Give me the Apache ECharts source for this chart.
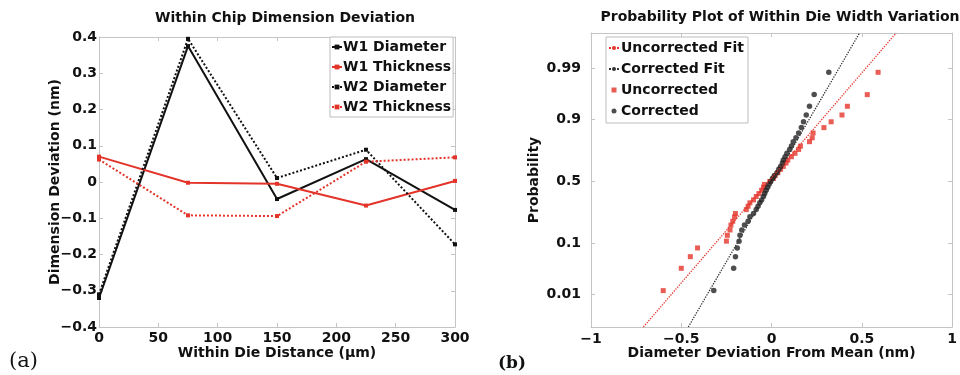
<!DOCTYPE html>
<html>
<head>
<meta charset="utf-8">
<script src="https://cdn.jsdelivr.net/npm/echarts@6/dist/echarts.min.js"></script>
<style>
  html, body { margin: 0; padding: 0; background: #fff; }
  #chart { width: 960px; height: 375px; }
</style>
</head>
<body>
<div id="chart"></div>
<script>
// (a) within chip deviation, x in um, y in nm
const distance = [0, 75, 150, 225, 300];
const w1Diameter = [-0.32, 0.375, -0.047, 0.063, -0.077];
const w1Thickness = [0.07, -0.002, -0.005, -0.065, 0.003];
const w2Diameter = [-0.31, 0.395, 0.011, 0.089, -0.172];
const w2Thickness = [0.062, -0.092, -0.094, 0.056, 0.068];

// (b) normal probability plot, y in normal-quantile units
const probZ = [-2.25, -1.79, -1.55, -1.37, -1.23, -1.11, -1.0, -0.9, -0.82, -0.73, -0.66,
  -0.58, -0.51, -0.44, -0.38, -0.31, -0.25, -0.18, -0.12, -0.06, 0, 0.06, 0.12, 0.18, 0.25,
  0.31, 0.38, 0.44, 0.51, 0.58, 0.66, 0.73, 0.82, 0.9, 1.0, 1.11, 1.23, 1.37, 1.55, 1.79, 2.25];
const uncorrectedX = [-0.60, -0.50, -0.45, -0.41, -0.25, -0.245, -0.23, -0.225, -0.215, -0.205,
  -0.20, -0.14, -0.13, -0.12, -0.10, -0.085, -0.07, -0.055, -0.045, -0.04, -0.01, 0.01, 0.02,
  0.035, 0.05, 0.065, 0.08, 0.09, 0.11, 0.13, 0.15, 0.16, 0.21, 0.225, 0.23, 0.29, 0.33, 0.39,
  0.42, 0.53, 0.59];
const correctedX = [-0.32, -0.21, -0.20, -0.19, -0.18, -0.175, -0.165, -0.15, -0.13, -0.12,
  -0.10, -0.085, -0.075, -0.065, -0.055, -0.045, -0.038, -0.03, -0.022, -0.015, -0.005, 0.005,
  0.015, 0.03, 0.04, 0.05, 0.06, 0.065, 0.075, 0.085, 0.10, 0.11, 0.12, 0.135, 0.15, 0.165,
  0.177, 0.192, 0.21, 0.236, 0.317];
const fitZ = [-3, 3.06];
const uncorrectedFitX = [-0.71, 0.69];
const correctedFitX = [-0.461, 0.487];
const probLabels = ['0.01', '0.1', '0.5', '0.9', '0.99'];
const probTickZ = [-2.326, -1.2816, 0, 1.2816, 2.326];

const chart = echarts.init(document.getElementById('chart'));

const FONT = "'DejaVu Sans', Verdana, sans-serif";
const SERIF = "'DejaVu Serif', serif";
const INK = '#111';
const RED = '#e3342a';
const AXIS_GREY = '#c4c4c4';

const minus = v => String(v).replace('-', '\u2212');
const pair = (xs, ys) => xs.map((x, i) => [x, ys[i]]);

// axis used for the plot box edges (ticks inside, light grey)
function edgeAxis(extra) {
  return Object.assign({
    type: 'value',
    nameMoveOverlap: false,
    axisLine: { show: true, onZero: false, lineStyle: { color: AXIS_GREY, width: 1 } },
    axisTick: { show: true, inside: true, length: 4, lineStyle: { color: AXIS_GREY } },
    splitLine: { show: false },
    axisLabel: { show: false }
  }, extra);
}
const labelStyle = { show: true, color: INK, fontFamily: FONT, fontWeight: 'bold', fontSize: 14 };
const nameStyle = { color: INK, fontFamily: FONT, fontWeight: 'bold', fontSize: 14 };

function lineSeries(name, data, color, type) {
  return {
    name: name, type: 'line', xAxisIndex: 0, yAxisIndex: 0,
    data: pair(distance, data),
    symbol: 'rect', symbolSize: 4,
    itemStyle: { color: color },
    lineStyle: { color: color, width: 2, type: type }
  };
}

const option = {
  animation: false,
  backgroundColor: '#fff',
  title: [
    { text: 'Within Chip Dimension Deviation', left: 280, top: 6, textAlign: 'center',
      textStyle: { fontFamily: FONT, fontWeight: 'bold', fontSize: 14, color: INK } },
    { text: 'Probability Plot of Within Die Width Variation', left: 775, top: 5, textAlign: 'center',
      textStyle: { fontFamily: FONT, fontWeight: 'bold', fontSize: 14, color: INK } },
    { text: '(a)', left: 4, top: 346,
      textStyle: { fontFamily: SERIF, fontWeight: 'normal', fontSize: 21, color: INK } },
    { text: '(b)', left: 493, top: 350,
      textStyle: { fontFamily: SERIF, fontWeight: 'bold', fontSize: 17, color: INK } }
  ],
  legend: [
    {
      orient: 'vertical', left: 330, top: 37,
      data: ['W1 Diameter', 'W1 Thickness', 'W2 Diameter', 'W2 Thickness'],
      backgroundColor: '#fff', borderColor: '#bdbdbd', borderWidth: 1,
      padding: [3, 2, 3, 1], itemGap: 6, itemWidth: 10, itemHeight: 6,
      textStyle: { fontFamily: FONT, fontWeight: 'bold', fontSize: 14, color: INK, padding: [0, 0, 0, -4] }
    },
    {
      orient: 'vertical', left: 606, top: 37,
      data: [
        'Uncorrected Fit',
        'Corrected Fit',
        { name: 'Uncorrected', icon: 'path://M0,0h1v1h-1z' },
        { name: 'Corrected', icon: 'circle' }
      ],
      backgroundColor: '#fff', borderColor: '#bdbdbd', borderWidth: 1,
      padding: [4, 4, 5, 2], itemGap: 7, itemWidth: 10, itemHeight: 5,
      textStyle: { fontFamily: FONT, fontWeight: 'bold', fontSize: 14, color: INK, padding: [0, 0, 0, -3] }
    }
  ],
  grid: [
    { left: 99, right: 505, top: 37, bottom: 48 },
    { left: 591, right: 7, top: 33, bottom: 48 }
  ],
  xAxis: [
    edgeAxis({ gridIndex: 0, position: 'bottom', min: 0, max: 300, interval: 50,
      axisLabel: Object.assign({}, labelStyle, { margin: 4 }),
      name: 'Within Die Distance (\u03bcm)', nameLocation: 'middle', nameGap: 19, nameTextStyle: nameStyle }),
    edgeAxis({ gridIndex: 0, position: 'top', min: 0, max: 300, interval: 50 }),
    edgeAxis({ gridIndex: 1, position: 'bottom', min: -1, max: 1, interval: 0.5,
      axisLabel: Object.assign({}, labelStyle, { margin: 5, formatter: minus }),
      name: 'Diameter Deviation From Mean (nm)', nameLocation: 'middle', nameGap: 19,
      nameTextStyle: nameStyle }),
    edgeAxis({ gridIndex: 1, position: 'top', min: -1, max: 1, interval: 0.5 })
  ],
  yAxis: [
    edgeAxis({ gridIndex: 0, position: 'left', min: -0.4, max: 0.4, interval: 0.1,
      axisLabel: Object.assign({}, labelStyle, { margin: 2, formatter: v => minus(+v.toFixed(1)) }),
      name: 'Dimension Deviation (nm)', nameLocation: 'middle', nameGap: 37, nameTextStyle: nameStyle }),
    edgeAxis({ gridIndex: 0, position: 'right', min: -0.4, max: 0.4, interval: 0.1 }),
    edgeAxis({ gridIndex: 1, position: 'left', min: -3, max: 3.06,
      axisTick: { show: true, inside: true, length: 4, lineStyle: { color: AXIS_GREY }, customValues: probTickZ },
      axisLabel: Object.assign({}, labelStyle, { margin: 10, customValues: probTickZ,
        formatter: v => probLabels[probTickZ.indexOf(v)] }),
      name: 'Probability', nameLocation: 'middle', nameGap: 50, nameTextStyle: nameStyle }),
    edgeAxis({ gridIndex: 1, position: 'right', min: -3, max: 3.06,
      axisTick: { show: true, inside: true, length: 4, lineStyle: { color: AXIS_GREY }, customValues: probTickZ } })
  ],
  series: [
    lineSeries('W1 Diameter', w1Diameter, '#111', 'solid'),
    lineSeries('W1 Thickness', w1Thickness, RED, 'solid'),
    lineSeries('W2 Diameter', w2Diameter, '#111', 'dotted'),
    lineSeries('W2 Thickness', w2Thickness, RED, 'dotted'),
    {
      name: 'Uncorrected Fit', type: 'line', xAxisIndex: 2, yAxisIndex: 2,
      data: pair(uncorrectedFitX, fitZ), showSymbol: false, symbol: 'none',
      itemStyle: { color: RED }, lineStyle: { color: RED, width: 1.3, type: 'dotted' }
    },
    {
      name: 'Corrected Fit', type: 'line', xAxisIndex: 2, yAxisIndex: 2,
      data: pair(correctedFitX, fitZ), showSymbol: false, symbol: 'none',
      itemStyle: { color: '#333' }, lineStyle: { color: '#333', width: 1.3, type: 'dotted' }
    },
    {
      name: 'Uncorrected', type: 'scatter', xAxisIndex: 2, yAxisIndex: 2,
      data: pair(uncorrectedX, probZ), symbol: 'rect', symbolSize: 5,
      itemStyle: { color: RED }
    },
    {
      name: 'Corrected', type: 'scatter', xAxisIndex: 2, yAxisIndex: 2,
      data: pair(correctedX, probZ), symbol: 'circle', symbolSize: 5.5,
      itemStyle: { color: '#222' }
    }
  ]
};

chart.setOption(option);
</script>
</body>
</html>
